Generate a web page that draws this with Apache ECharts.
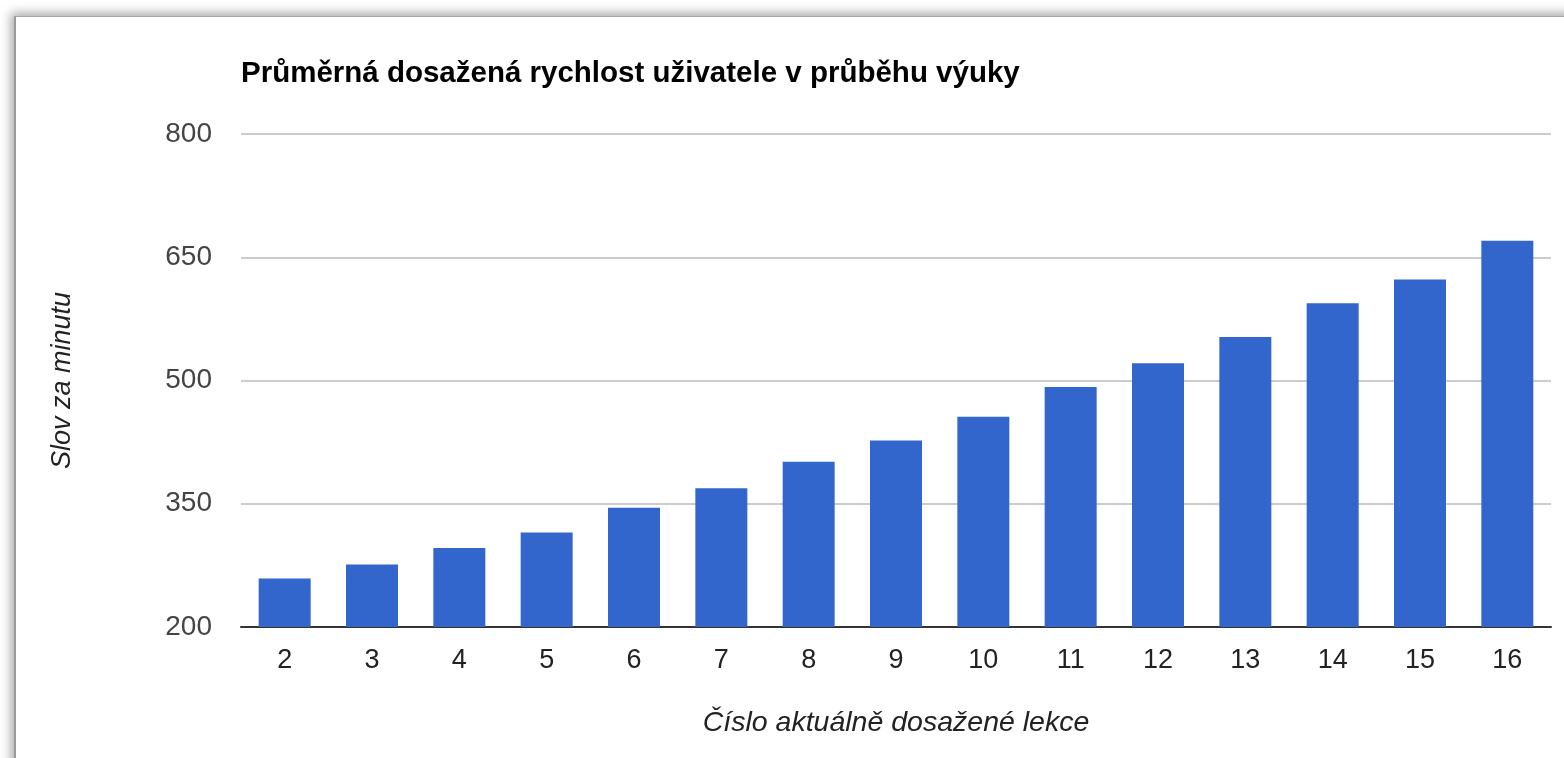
<!DOCTYPE html>
<html>
<head>
<meta charset="utf-8">
<script src="https://cdn.jsdelivr.net/npm/echarts@6/dist/echarts.min.js"></script>
<style>
html,body{margin:0;padding:0;background:#fff;width:1564px;height:758px;overflow:hidden;}
#frame{position:absolute;left:14px;top:16px;width:1600px;height:800px;background:#fff;border-left:2px solid #9a9a9a;border-top:1px solid #a8a8a8;box-shadow:0 0 10px 3px rgba(0,0,0,0.35);}
#chart{position:absolute;left:0;top:0;width:1564px;height:758px;}
</style>
</head>
<body>
<div id="frame"></div>
<div id="chart"></div>
<script>
const titleText = 'Průměrná dosažená rychlost uživatele v průběhu výuky';
const xAxisName = 'Číslo aktuálně dosažené lekce';
const yAxisName = 'Slov za minutu';
const categories = ['2','3','4','5','6','7','8','9','10','11','12','13','14','15','16'];
const values = [259, 276, 296, 315, 345, 369, 401, 427, 456, 492, 521, 553, 594, 623, 670];
const yMin = 200, yMax = 800, yStep = 150;

const chart = echarts.init(document.getElementById('chart'), null, {renderer:'canvas'});
chart.setOption({
  backgroundColor: 'transparent',
  animation: false,
  title: {
    text: titleText,
    left: 241, top: 59, padding: 0,
    textStyle: {fontFamily: 'Liberation Sans, Arial', fontWeight: 'bold', fontSize: 29.5, color: '#000'}
  },
  grid: {left: 241, right: 13, top: 134, bottom: 131, containLabel: false},
  xAxis: {
    type: 'category',
    data: categories,
    name: xAxisName,
    nameLocation: 'middle',
    nameGap: 82,
    nameTextStyle: {fontFamily: 'Liberation Sans, Arial', fontStyle: 'italic', fontSize: 28.5, color: '#222'},
    axisLine: {show: true, lineStyle: {color: '#333', width: 2}},
    axisTick: {show: false},
    axisLabel: {margin: 20, fontFamily: 'Liberation Sans, Arial', fontSize: 27, color: '#222'},
    splitLine: {show: false}
  },
  yAxis: {
    type: 'value',
    min: yMin, max: yMax, interval: yStep,
    name: yAxisName,
    nameLocation: 'middle',
    nameGap: 165,
    nameRotate: 90,
    nameTextStyle: {fontFamily: 'Liberation Sans, Arial', fontStyle: 'italic', fontSize: 27, color: '#222'},
    axisLine: {show: false},
    axisTick: {show: false},
    axisLabel: {margin: 29, fontFamily: 'Liberation Sans, Arial', fontSize: 28, color: '#444'},
    splitLine: {show: true, lineStyle: {color: '#cccccc', width: 2}}
  },
  series: [{
    type: 'bar',
    data: values,
    barWidth: 52,
    itemStyle: {color: '#3366cc'}
  }]
});
</script>
</body>
</html>
